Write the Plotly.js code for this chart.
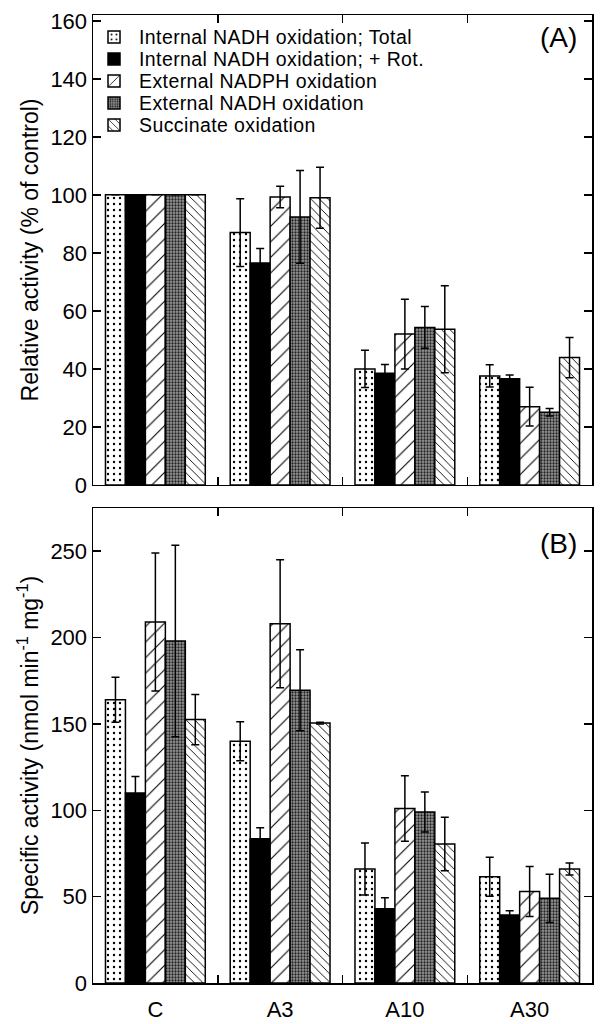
<!DOCTYPE html>
<html>
<head>
<meta charset="utf-8">
<script src="https://cdn.plot.ly/plotly-3.0.1.min.js"></script>
<style>html,body{margin:0;padding:0;background:#fff;}#chart{width:600px;height:1024px;}</style>
</head>
<body>
<div id="chart"></div>
<script>
var categories = ['C', 'A3', 'A10', 'A30'];
var seriesNames = [
  'Internal NADH oxidation; Total',
  'Internal NADH oxidation; + Rot.',
  'External NADPH oxidation',
  'External NADH oxidation',
  'Succinate oxidation'
];

// Panel A: relative activity (% of control)
var relTotal = [100, 87, 40, 37.6];
var relTotalErr = [0, 11.7, 6.4, 3.8];
var relRot = [100, 76.5, 38.5, 36.6];
var relRotErr = [0, 5, 3, 1.3];
var relNADPH = [100, 99.3, 52, 27];
var relNADPHErr = [0, 3.7, 12, 6.7];
var relNADH = [100, 92.4, 54.3, 25.1];
var relNADHErr = [0, 16, 7.2, 1.3];
var relSucc = [100, 99, 53.7, 43.9];
var relSuccErr = [0, 10.5, 15, 6.9];

// Panel B: specific activity (nmol min-1 mg-1)
var spTotal = [164, 140, 66, 61.5];
var spTotalErr = [13, 11.3, 15, 11.3];
var spRot = [110, 83.5, 43, 39.4];
var spRotErr = [9.5, 6.4, 6.3, 2.4];
var spNADPH = [209, 208, 101, 53];
var spNADPHErr = [40, 37, 19, 14.5];
var spNADH = [198, 169.5, 99, 49];
var spNADHErr = [55.5, 23.5, 11.6, 14];
var spSucc = [152.5, 150.5, 80.5, 66];
var spSuccErr = [14.5, 0.5, 15.5, 3.5];

var patterns = [
  {shape: '.', fgcolor: '#000', bgcolor: '#fff', size: 6, solidity: 0.12, fillmode: 'replace'},
  null,
  {shape: '/', fgcolor: '#000', bgcolor: '#fff', size: 11, solidity: 0.1, fillmode: 'replace'},
  {shape: '.', fgcolor: '#222', bgcolor: '#999', size: 3, solidity: 0.45, fillmode: 'replace'},
  {shape: '\\', fgcolor: '#000', bgcolor: '#fff', size: 6, solidity: 0.15, fillmode: 'replace'}
];

var relData = [relTotal, relRot, relNADPH, relNADH, relSucc];
var relErr = [relTotalErr, relRotErr, relNADPHErr, relNADHErr, relSuccErr];
var spData = [spTotal, spRot, spNADPH, spNADH, spSucc];
var spErr = [spTotalErr, spRotErr, spNADPHErr, spNADHErr, spSuccErr];

function makeTrace(i, ys, errs, xa, ya, show) {
  var marker = {line: {color: '#000', width: 1.5}};
  if (patterns[i]) { marker.color = '#fff'; marker.pattern = patterns[i]; }
  else { marker.color = '#000'; }
  return {
    type: 'bar', x: categories, y: ys, name: seriesNames[i],
    xaxis: xa, yaxis: ya, showlegend: show, legendgroup: 'g' + i,
    marker: marker,
    error_y: {type: 'data', array: errs, visible: true, color: '#000', thickness: 1.5, width: 4},
    hoverinfo: 'skip'
  };
}

var traces = [];
for (var i = 0; i < 5; i++) traces.push(makeTrace(i, relData[i], relErr[i], 'x', 'y', true));
for (var j = 0; j < 5; j++) traces.push(makeTrace(j, spData[j], spErr[j], 'x2', 'y2', false));

var FAM = 'Liberation Sans, Arial, sans-serif';
var tickFont = {family: FAM, size: 22, color: '#000'};
var titleFont = {family: FAM, size: 23, color: '#000'};
var axCommon = {
  showline: true, linecolor: '#000', linewidth: 1.5, mirror: 'ticks',
  ticks: 'inside', ticklen: 8, tickwidth: 1.5, tickcolor: '#000',
  showgrid: false, zeroline: false, tickfont: tickFont
};

var layout = {
  width: 600, height: 1024,
  margin: {l: 93, r: 8, t: 15, b: 41},
  paper_bgcolor: '#fff', plot_bgcolor: '#fff',
  font: tickFont,
  barmode: 'group', bargap: 0.2, bargroupgap: 0,
  showlegend: true,
  legend: {x: -0.008, y: 0.9938, xanchor: 'left', yanchor: 'top', bgcolor: 'rgba(0,0,0,0)',
           font: {family: FAM, size: 14.6, color: '#000'},
           tracegroupgap: 0, itemwidth: 40},
  xaxis: Object.assign({}, axCommon, {anchor: 'y', domain: [0, 1], type: 'category',
           tickson: 'boundaries', showticklabels: false, categoryarray: categories}),
  yaxis: Object.assign({}, axCommon, {anchor: 'x', domain: [0.5145, 1], range: [0, 162],
           tickvals: [0, 20, 40, 60, 80, 100, 120, 140, 160],
           title: {text: 'Relative activity (% of control)', font: titleFont, standoff: 5}}),
  xaxis2: Object.assign({}, axCommon, {anchor: 'y2', domain: [0, 1], type: 'category',
           tickson: 'boundaries', categoryarray: categories, ticklabelstandoff: 6}),
  yaxis2: Object.assign({}, axCommon, {anchor: 'x2', domain: [0, 0.4907], range: [0, 275],
           tickvals: [0, 50, 100, 150, 200, 250],
           title: {text: 'Specific activity (nmol min<sup>-1</sup> mg<sup>-1</sup>)', font: titleFont, standoff: 5}}),
  annotations: [
    {text: '(A)', xref: 'paper', yref: 'paper', x: 0.932, y: 0.977, xanchor: 'center', yanchor: 'middle',
     showarrow: false, font: {family: FAM, size: 28, color: '#000'}},
    {text: '(B)', xref: 'paper', yref: 'paper', x: 0.932, y: 0.4545, xanchor: 'center', yanchor: 'middle',
     showarrow: false, font: {family: FAM, size: 28, color: '#000'}}
  ]
};

Plotly.newPlot('chart', traces, layout, {displayModeBar: false, staticPlot: true}).then(function (gd) {
  // Legend rows in the reference are tightly packed with large text:
  // keep the compact row spacing but enlarge the legend text.
  gd.querySelectorAll('.legend .scrollbox').forEach(function (el) { el.removeAttribute('clip-path'); });
  gd.querySelectorAll('.legend .legendtext').forEach(function (el) {
    el.style.fontSize = '19.5px';
    el.style.letterSpacing = '0.4px';
    el.setAttribute('y', '7');
  });
});
</script>
</body>
</html>
